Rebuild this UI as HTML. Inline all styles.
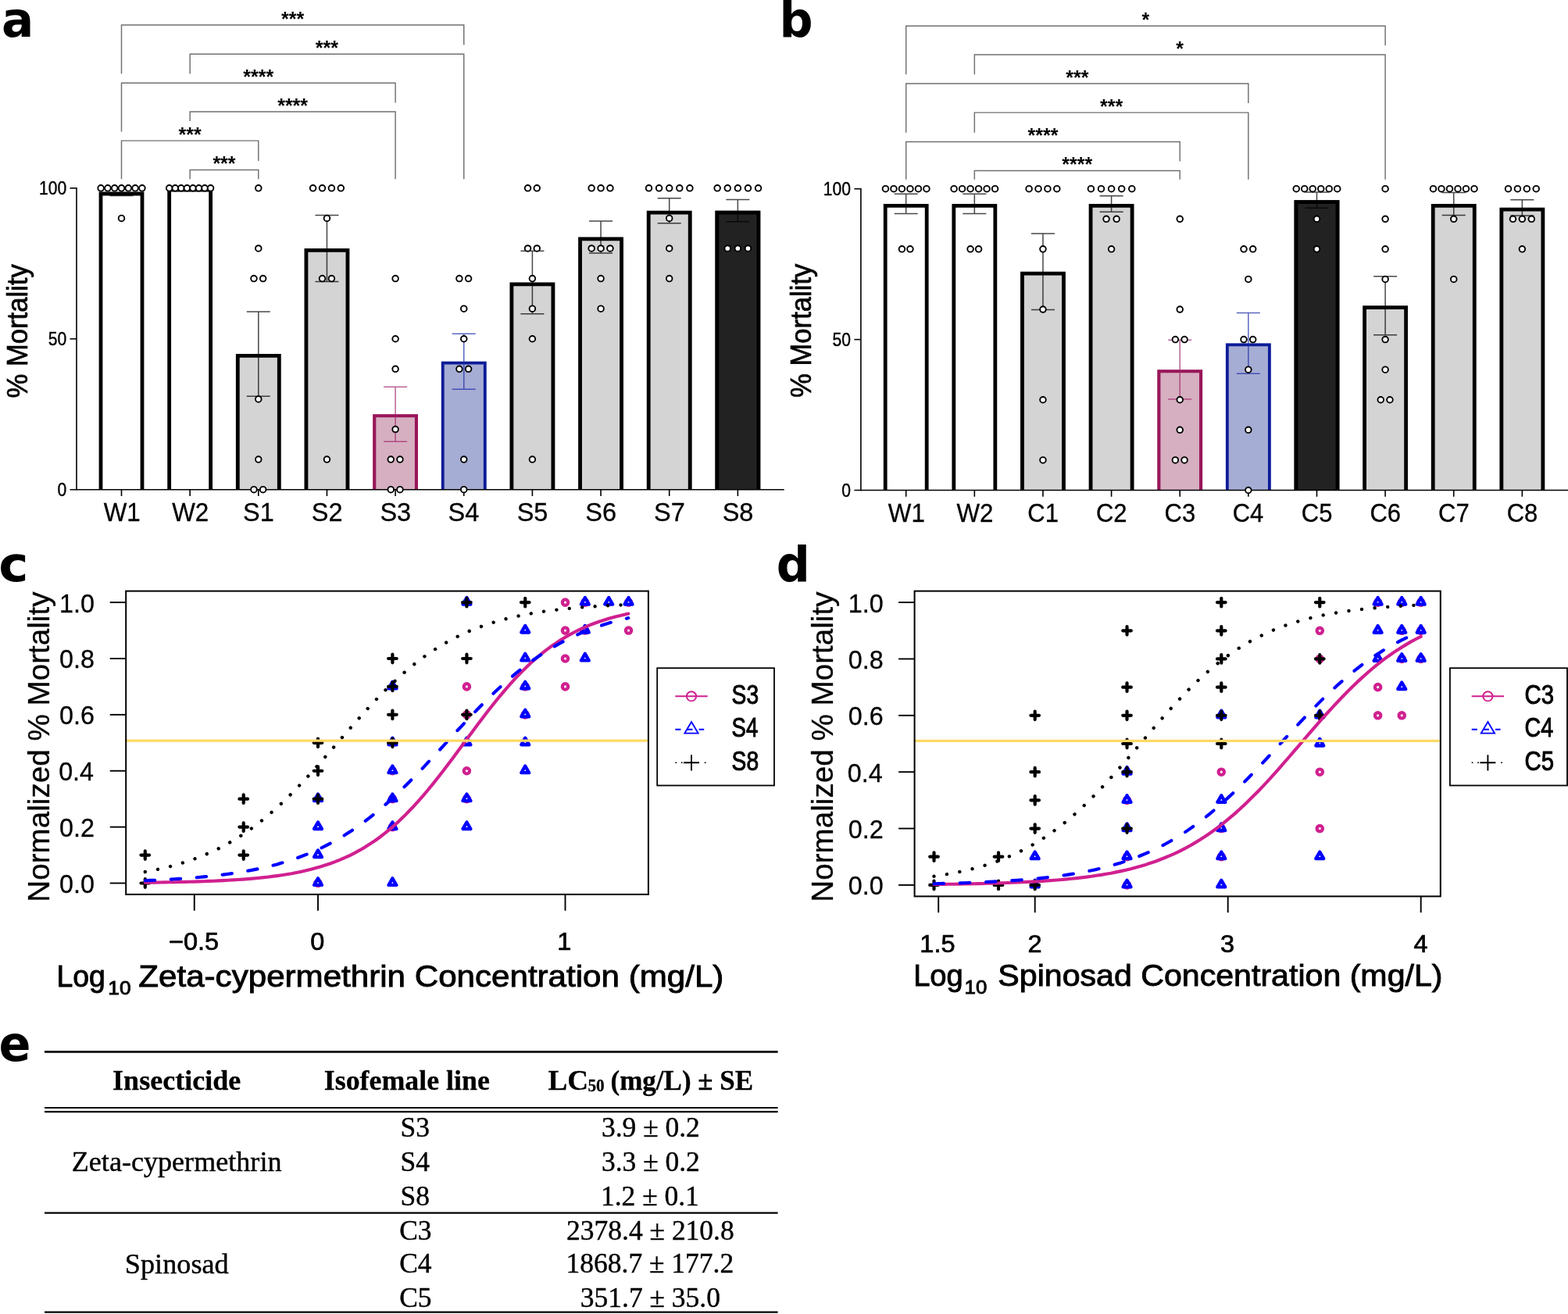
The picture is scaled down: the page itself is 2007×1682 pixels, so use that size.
<!DOCTYPE html>
<html lang="en"><head><meta charset="utf-8"><title>Figure</title>
<style>html,body{margin:0;padding:0;background:#fff;overflow:hidden}svg{display:block}</style></head>
<body>
<svg width="2007" height="1682" viewBox="0 0 2007 1682">
<rect width="2007" height="1682" fill="#fff"/>
<rect x="126.60" y="245.62" width="57.80" height="381.08" fill="#fff"/>
<path d="M129.00 626.70V248.02H182.00V626.70" fill="none" stroke="#000" stroke-width="4.8"/>
<path d="M155.50 240.80V250.45M140.50 240.80h30M140.50 250.45h30" fill="none" stroke="#000" stroke-opacity="0.72" stroke-width="1.5"/>
<rect x="214.25" y="240.80" width="57.80" height="385.90" fill="#fff"/>
<path d="M216.65 626.70V243.20H269.65V626.70" fill="none" stroke="#000" stroke-width="4.8"/>
<rect x="301.90" y="453.05" width="57.80" height="173.65" fill="#d4d4d4"/>
<path d="M304.30 626.70V455.45H357.30V626.70" fill="none" stroke="#000" stroke-width="4.8"/>
<path d="M330.80 398.96V507.13M315.80 398.96h30M315.80 507.13h30" fill="none" stroke="#000" stroke-opacity="0.72" stroke-width="1.5"/>
<rect x="389.55" y="317.98" width="57.80" height="308.72" fill="#d4d4d4"/>
<path d="M391.95 626.70V320.38H444.95V626.70" fill="none" stroke="#000" stroke-width="4.8"/>
<path d="M418.45 275.46V360.50M403.45 275.46h30M403.45 360.50h30" fill="none" stroke="#000" stroke-opacity="0.72" stroke-width="1.5"/>
<rect x="477.20" y="530.23" width="57.80" height="96.48" fill="#d6afc1"/>
<path d="M479.25 626.70V532.27H532.95V626.70" fill="none" stroke="#98165a" stroke-width="4.1"/>
<path d="M506.10 495.25V565.20M491.10 495.25h30M491.10 565.20h30" fill="none" stroke="#a0256a" stroke-opacity="0.72" stroke-width="1.5"/>
<rect x="564.85" y="462.69" width="57.80" height="164.01" fill="#a6add4"/>
<path d="M566.75 626.70V464.59H620.75V626.70" fill="none" stroke="#0c1c98" stroke-width="3.8"/>
<path d="M593.75 427.15V498.23M578.75 427.15h30M578.75 498.23h30" fill="none" stroke="#1c2ca6" stroke-opacity="0.72" stroke-width="1.5"/>
<rect x="652.50" y="361.39" width="57.80" height="265.31" fill="#d4d4d4"/>
<path d="M654.90 626.70V363.79H707.90V626.70" fill="none" stroke="#000" stroke-width="4.8"/>
<path d="M681.40 321.16V401.63M666.40 321.16h30M666.40 401.63h30" fill="none" stroke="#000" stroke-opacity="0.72" stroke-width="1.5"/>
<rect x="740.15" y="303.51" width="57.80" height="323.19" fill="#d4d4d4"/>
<path d="M742.55 626.70V305.91H795.55V626.70" fill="none" stroke="#000" stroke-width="4.8"/>
<path d="M769.05 282.96V324.06M754.05 282.96h30M754.05 324.06h30" fill="none" stroke="#000" stroke-opacity="0.72" stroke-width="1.5"/>
<rect x="827.80" y="269.74" width="57.80" height="356.96" fill="#d4d4d4"/>
<path d="M830.20 626.70V272.14H883.20V626.70" fill="none" stroke="#000" stroke-width="4.8"/>
<path d="M856.70 253.85V285.64M841.70 253.85h30M841.70 285.64h30" fill="none" stroke="#000" stroke-opacity="0.72" stroke-width="1.5"/>
<rect x="915.45" y="269.74" width="57.80" height="356.96" fill="#222"/>
<path d="M917.85 626.70V272.14H970.85V626.70" fill="none" stroke="#000" stroke-width="4.8"/>
<path d="M944.35 255.62V283.86M929.35 255.62h30M929.35 283.86h30" fill="none" stroke="#000" stroke-opacity="0.72" stroke-width="1.5"/>
<line x1="98.00" y1="240.00" x2="98.00" y2="627.50" stroke="#000" stroke-width="1.6"/>
<line x1="89.50" y1="626.70" x2="1003.70" y2="626.70" stroke="#000" stroke-width="1.6"/>
<line x1="89.50" y1="433.75" x2="98.00" y2="433.75" stroke="#000" stroke-width="1.6"/>
<line x1="89.50" y1="240.80" x2="98.00" y2="240.80" stroke="#000" stroke-width="1.6"/>
<text x="73.44" y="634.80" font-family='"Liberation Sans", sans-serif' font-size="23.3" textLength="11.73" lengthAdjust="spacingAndGlyphs" stroke="#000" stroke-width="0.4">0</text>
<text x="61.71" y="441.85" font-family='"Liberation Sans", sans-serif' font-size="23.3" textLength="23.45" lengthAdjust="spacingAndGlyphs" stroke="#000" stroke-width="0.4">50</text>
<text x="49.98" y="248.90" font-family='"Liberation Sans", sans-serif' font-size="23.3" textLength="35.18" lengthAdjust="spacingAndGlyphs" stroke="#000" stroke-width="0.4">100</text>
<line x1="155.50" y1="626.70" x2="155.50" y2="635.00" stroke="#000" stroke-width="1.6"/>
<text x="132.63" y="667.30" font-family='"Liberation Sans", sans-serif' font-size="33" textLength="47.02" lengthAdjust="spacingAndGlyphs" stroke="#000" stroke-width="0.3">W1</text>
<line x1="243.15" y1="626.70" x2="243.15" y2="635.00" stroke="#000" stroke-width="1.6"/>
<text x="220.28" y="667.30" font-family='"Liberation Sans", sans-serif' font-size="33" textLength="47.02" lengthAdjust="spacingAndGlyphs" stroke="#000" stroke-width="0.3">W2</text>
<line x1="330.80" y1="626.70" x2="330.80" y2="635.00" stroke="#000" stroke-width="1.6"/>
<text x="311.09" y="667.30" font-family='"Liberation Sans", sans-serif' font-size="33" textLength="39.76" lengthAdjust="spacingAndGlyphs" stroke="#000" stroke-width="0.3">S1</text>
<line x1="418.45" y1="626.70" x2="418.45" y2="635.00" stroke="#000" stroke-width="1.6"/>
<text x="398.74" y="667.30" font-family='"Liberation Sans", sans-serif' font-size="33" textLength="39.76" lengthAdjust="spacingAndGlyphs" stroke="#000" stroke-width="0.3">S2</text>
<line x1="506.10" y1="626.70" x2="506.10" y2="635.00" stroke="#000" stroke-width="1.6"/>
<text x="486.39" y="667.30" font-family='"Liberation Sans", sans-serif' font-size="33" textLength="39.76" lengthAdjust="spacingAndGlyphs" stroke="#000" stroke-width="0.3">S3</text>
<line x1="593.75" y1="626.70" x2="593.75" y2="635.00" stroke="#000" stroke-width="1.6"/>
<text x="573.55" y="667.30" font-family='"Liberation Sans", sans-serif' font-size="33" textLength="39.76" lengthAdjust="spacingAndGlyphs" stroke="#000" stroke-width="0.3">S4</text>
<line x1="681.40" y1="626.70" x2="681.40" y2="635.00" stroke="#000" stroke-width="1.6"/>
<text x="661.69" y="667.30" font-family='"Liberation Sans", sans-serif' font-size="33" textLength="39.76" lengthAdjust="spacingAndGlyphs" stroke="#000" stroke-width="0.3">S5</text>
<line x1="769.05" y1="626.70" x2="769.05" y2="635.00" stroke="#000" stroke-width="1.6"/>
<text x="749.34" y="667.30" font-family='"Liberation Sans", sans-serif' font-size="33" textLength="39.76" lengthAdjust="spacingAndGlyphs" stroke="#000" stroke-width="0.3">S6</text>
<line x1="856.70" y1="626.70" x2="856.70" y2="635.00" stroke="#000" stroke-width="1.6"/>
<text x="836.99" y="667.30" font-family='"Liberation Sans", sans-serif' font-size="33" textLength="39.76" lengthAdjust="spacingAndGlyphs" stroke="#000" stroke-width="0.3">S7</text>
<line x1="944.35" y1="626.70" x2="944.35" y2="635.00" stroke="#000" stroke-width="1.6"/>
<text x="924.64" y="667.30" font-family='"Liberation Sans", sans-serif' font-size="33" textLength="39.76" lengthAdjust="spacingAndGlyphs" stroke="#000" stroke-width="0.3">S8</text>
<circle cx="155.50" cy="279.39" r="3.8" fill="#fff" stroke="#000" stroke-width="1.9"/>
<circle cx="129.10" cy="240.80" r="3.8" fill="#fff" stroke="#000" stroke-width="1.9"/>
<circle cx="137.90" cy="240.80" r="3.8" fill="#fff" stroke="#000" stroke-width="1.9"/>
<circle cx="146.70" cy="240.80" r="3.8" fill="#fff" stroke="#000" stroke-width="1.9"/>
<circle cx="155.50" cy="240.80" r="3.8" fill="#fff" stroke="#000" stroke-width="1.9"/>
<circle cx="164.30" cy="240.80" r="3.8" fill="#fff" stroke="#000" stroke-width="1.9"/>
<circle cx="173.10" cy="240.80" r="3.8" fill="#fff" stroke="#000" stroke-width="1.9"/>
<circle cx="181.90" cy="240.80" r="3.8" fill="#fff" stroke="#000" stroke-width="1.9"/>
<circle cx="216.72" cy="240.80" r="3.8" fill="#fff" stroke="#000" stroke-width="1.9"/>
<circle cx="224.28" cy="240.80" r="3.8" fill="#fff" stroke="#000" stroke-width="1.9"/>
<circle cx="231.83" cy="240.80" r="3.8" fill="#fff" stroke="#000" stroke-width="1.9"/>
<circle cx="239.38" cy="240.80" r="3.8" fill="#fff" stroke="#000" stroke-width="1.9"/>
<circle cx="246.93" cy="240.80" r="3.8" fill="#fff" stroke="#000" stroke-width="1.9"/>
<circle cx="254.47" cy="240.80" r="3.8" fill="#fff" stroke="#000" stroke-width="1.9"/>
<circle cx="262.02" cy="240.80" r="3.8" fill="#fff" stroke="#000" stroke-width="1.9"/>
<circle cx="269.57" cy="240.80" r="3.8" fill="#fff" stroke="#000" stroke-width="1.9"/>
<circle cx="324.95" cy="626.70" r="3.8" fill="#fff" stroke="#000" stroke-width="1.9"/>
<circle cx="336.65" cy="626.70" r="3.8" fill="#fff" stroke="#000" stroke-width="1.9"/>
<circle cx="330.80" cy="588.11" r="3.8" fill="#fff" stroke="#000" stroke-width="1.9"/>
<circle cx="330.80" cy="510.93" r="3.8" fill="#fff" stroke="#000" stroke-width="1.9"/>
<circle cx="324.95" cy="356.57" r="3.8" fill="#fff" stroke="#000" stroke-width="1.9"/>
<circle cx="336.65" cy="356.57" r="3.8" fill="#fff" stroke="#000" stroke-width="1.9"/>
<circle cx="330.80" cy="317.98" r="3.8" fill="#fff" stroke="#000" stroke-width="1.9"/>
<circle cx="330.80" cy="240.80" r="3.8" fill="#fff" stroke="#000" stroke-width="1.9"/>
<circle cx="418.45" cy="588.11" r="3.8" fill="#fff" stroke="#000" stroke-width="1.9"/>
<circle cx="412.50" cy="356.57" r="3.8" fill="#fff" stroke="#000" stroke-width="1.9"/>
<circle cx="424.40" cy="356.57" r="3.8" fill="#fff" stroke="#000" stroke-width="1.9"/>
<circle cx="418.45" cy="279.39" r="3.8" fill="#fff" stroke="#000" stroke-width="1.9"/>
<circle cx="400.60" cy="240.80" r="3.8" fill="#fff" stroke="#000" stroke-width="1.9"/>
<circle cx="412.50" cy="240.80" r="3.8" fill="#fff" stroke="#000" stroke-width="1.9"/>
<circle cx="424.40" cy="240.80" r="3.8" fill="#fff" stroke="#000" stroke-width="1.9"/>
<circle cx="436.30" cy="240.80" r="3.8" fill="#fff" stroke="#000" stroke-width="1.9"/>
<circle cx="500.25" cy="626.70" r="3.8" fill="#fff" stroke="#000" stroke-width="1.9"/>
<circle cx="511.95" cy="626.70" r="3.8" fill="#fff" stroke="#000" stroke-width="1.9"/>
<circle cx="500.25" cy="588.11" r="3.8" fill="#fff" stroke="#000" stroke-width="1.9"/>
<circle cx="511.95" cy="588.11" r="3.8" fill="#fff" stroke="#000" stroke-width="1.9"/>
<circle cx="506.10" cy="549.52" r="3.8" fill="#fff" stroke="#000" stroke-width="1.9"/>
<circle cx="506.10" cy="472.34" r="3.8" fill="#fff" stroke="#000" stroke-width="1.9"/>
<circle cx="506.10" cy="433.75" r="3.8" fill="#fff" stroke="#000" stroke-width="1.9"/>
<circle cx="506.10" cy="356.57" r="3.8" fill="#fff" stroke="#000" stroke-width="1.9"/>
<circle cx="593.75" cy="626.70" r="3.8" fill="#fff" stroke="#000" stroke-width="1.9"/>
<circle cx="593.75" cy="588.11" r="3.8" fill="#fff" stroke="#000" stroke-width="1.9"/>
<circle cx="587.90" cy="472.34" r="3.8" fill="#fff" stroke="#000" stroke-width="1.9"/>
<circle cx="599.60" cy="472.34" r="3.8" fill="#fff" stroke="#000" stroke-width="1.9"/>
<circle cx="593.75" cy="433.75" r="3.8" fill="#fff" stroke="#000" stroke-width="1.9"/>
<circle cx="593.75" cy="395.16" r="3.8" fill="#fff" stroke="#000" stroke-width="1.9"/>
<circle cx="587.90" cy="356.57" r="3.8" fill="#fff" stroke="#000" stroke-width="1.9"/>
<circle cx="599.60" cy="356.57" r="3.8" fill="#fff" stroke="#000" stroke-width="1.9"/>
<circle cx="681.40" cy="588.11" r="3.8" fill="#fff" stroke="#000" stroke-width="1.9"/>
<circle cx="681.40" cy="433.75" r="3.8" fill="#fff" stroke="#000" stroke-width="1.9"/>
<circle cx="681.40" cy="395.16" r="3.8" fill="#fff" stroke="#000" stroke-width="1.9"/>
<circle cx="681.40" cy="356.57" r="3.8" fill="#fff" stroke="#000" stroke-width="1.9"/>
<circle cx="675.55" cy="317.98" r="3.8" fill="#fff" stroke="#000" stroke-width="1.9"/>
<circle cx="687.25" cy="317.98" r="3.8" fill="#fff" stroke="#000" stroke-width="1.9"/>
<circle cx="675.55" cy="240.80" r="3.8" fill="#fff" stroke="#000" stroke-width="1.9"/>
<circle cx="687.25" cy="240.80" r="3.8" fill="#fff" stroke="#000" stroke-width="1.9"/>
<circle cx="769.05" cy="395.16" r="3.8" fill="#fff" stroke="#000" stroke-width="1.9"/>
<circle cx="769.05" cy="356.57" r="3.8" fill="#fff" stroke="#000" stroke-width="1.9"/>
<circle cx="757.15" cy="317.98" r="3.8" fill="#fff" stroke="#000" stroke-width="1.9"/>
<circle cx="769.05" cy="317.98" r="3.8" fill="#fff" stroke="#000" stroke-width="1.9"/>
<circle cx="780.95" cy="317.98" r="3.8" fill="#fff" stroke="#000" stroke-width="1.9"/>
<circle cx="757.15" cy="240.80" r="3.8" fill="#fff" stroke="#000" stroke-width="1.9"/>
<circle cx="769.05" cy="240.80" r="3.8" fill="#fff" stroke="#000" stroke-width="1.9"/>
<circle cx="780.95" cy="240.80" r="3.8" fill="#fff" stroke="#000" stroke-width="1.9"/>
<circle cx="856.70" cy="356.57" r="3.8" fill="#fff" stroke="#000" stroke-width="1.9"/>
<circle cx="856.70" cy="317.98" r="3.8" fill="#fff" stroke="#000" stroke-width="1.9"/>
<circle cx="856.70" cy="279.39" r="3.8" fill="#fff" stroke="#000" stroke-width="1.9"/>
<circle cx="830.50" cy="240.80" r="3.8" fill="#fff" stroke="#000" stroke-width="1.9"/>
<circle cx="843.60" cy="240.80" r="3.8" fill="#fff" stroke="#000" stroke-width="1.9"/>
<circle cx="856.70" cy="240.80" r="3.8" fill="#fff" stroke="#000" stroke-width="1.9"/>
<circle cx="869.80" cy="240.80" r="3.8" fill="#fff" stroke="#000" stroke-width="1.9"/>
<circle cx="882.90" cy="240.80" r="3.8" fill="#fff" stroke="#000" stroke-width="1.9"/>
<circle cx="931.25" cy="317.98" r="3.8" fill="#fff" stroke="#000" stroke-width="1.9"/>
<circle cx="944.35" cy="317.98" r="3.8" fill="#fff" stroke="#000" stroke-width="1.9"/>
<circle cx="957.45" cy="317.98" r="3.8" fill="#fff" stroke="#000" stroke-width="1.9"/>
<circle cx="918.15" cy="240.80" r="3.8" fill="#fff" stroke="#000" stroke-width="1.9"/>
<circle cx="931.25" cy="240.80" r="3.8" fill="#fff" stroke="#000" stroke-width="1.9"/>
<circle cx="944.35" cy="240.80" r="3.8" fill="#fff" stroke="#000" stroke-width="1.9"/>
<circle cx="957.45" cy="240.80" r="3.8" fill="#fff" stroke="#000" stroke-width="1.9"/>
<circle cx="970.55" cy="240.80" r="3.8" fill="#fff" stroke="#000" stroke-width="1.9"/>
<text transform="translate(34.50,508.60) rotate(-90)" x="-0.94" y="0" font-family='"Liberation Sans", sans-serif' font-size="36.9" textLength="171.32" lengthAdjust="spacingAndGlyphs" stroke="#000" stroke-width="0.7">% Mortality</text>
<path d="M155.50 94.60V32.10H593.75V57.50" fill="none" stroke="#707070" stroke-width="1.45"/>
<text x="374.62" y="32.60" font-family='"Liberation Sans", sans-serif' font-size="25" text-anchor="middle" font-weight="bold">***</text>
<path d="M243.15 94.60V69.20H593.75V229.30" fill="none" stroke="#707070" stroke-width="1.45"/>
<text x="418.45" y="69.70" font-family='"Liberation Sans", sans-serif' font-size="25" text-anchor="middle" font-weight="bold">***</text>
<path d="M155.50 168.40V106.20H506.10V131.60" fill="none" stroke="#707070" stroke-width="1.45"/>
<text x="330.80" y="106.70" font-family='"Liberation Sans", sans-serif' font-size="25" text-anchor="middle" font-weight="bold">****</text>
<path d="M243.15 154.90V143.00H506.10V229.30" fill="none" stroke="#707070" stroke-width="1.45"/>
<text x="374.62" y="143.50" font-family='"Liberation Sans", sans-serif' font-size="25" text-anchor="middle" font-weight="bold">****</text>
<path d="M155.50 229.30V180.10H330.80V206.00" fill="none" stroke="#707070" stroke-width="1.45"/>
<text x="243.15" y="180.60" font-family='"Liberation Sans", sans-serif' font-size="25" text-anchor="middle" font-weight="bold">***</text>
<path d="M243.15 229.30V217.40H330.80V229.30" fill="none" stroke="#707070" stroke-width="1.45"/>
<text x="286.98" y="217.90" font-family='"Liberation Sans", sans-serif' font-size="25" text-anchor="middle" font-weight="bold">***</text>
<rect x="1130.80" y="260.99" width="57.80" height="366.51" fill="#fff"/>
<path d="M1133.20 627.50V263.39H1186.20V627.50" fill="none" stroke="#000" stroke-width="4.8"/>
<path d="M1159.70 248.36V273.62M1144.70 248.36h30M1144.70 273.62h30" fill="none" stroke="#000" stroke-opacity="0.72" stroke-width="1.5"/>
<rect x="1218.43" y="260.99" width="57.80" height="366.51" fill="#fff"/>
<path d="M1220.83 627.50V263.39H1273.83V627.50" fill="none" stroke="#000" stroke-width="4.8"/>
<path d="M1247.33 248.36V273.62M1232.33 248.36h30M1232.33 273.62h30" fill="none" stroke="#000" stroke-opacity="0.72" stroke-width="1.5"/>
<rect x="1306.06" y="347.80" width="57.80" height="279.70" fill="#d4d4d4"/>
<path d="M1308.46 627.50V350.19H1361.46V627.50" fill="none" stroke="#000" stroke-width="4.8"/>
<path d="M1334.96 299.02V396.57M1319.96 299.02h30M1319.96 396.57h30" fill="none" stroke="#000" stroke-opacity="0.72" stroke-width="1.5"/>
<rect x="1393.69" y="260.99" width="57.80" height="366.51" fill="#d4d4d4"/>
<path d="M1396.09 627.50V263.39H1449.09V627.50" fill="none" stroke="#000" stroke-width="4.8"/>
<path d="M1422.59 250.68V271.30M1407.59 250.68h30M1407.59 271.30h30" fill="none" stroke="#000" stroke-opacity="0.72" stroke-width="1.5"/>
<rect x="1481.32" y="473.18" width="57.80" height="154.32" fill="#d6afc1"/>
<path d="M1483.37 627.50V475.23H1537.07V627.50" fill="none" stroke="#98165a" stroke-width="4.1"/>
<path d="M1510.22 435.30V511.06M1495.22 435.30h30M1495.22 511.06h30" fill="none" stroke="#a0256a" stroke-opacity="0.72" stroke-width="1.5"/>
<rect x="1568.95" y="439.42" width="57.80" height="188.08" fill="#a6add4"/>
<path d="M1570.85 627.50V441.32H1624.85V627.50" fill="none" stroke="#0c1c98" stroke-width="3.8"/>
<path d="M1597.85 400.54V478.30M1582.85 400.54h30M1582.85 478.30h30" fill="none" stroke="#1c2ca6" stroke-opacity="0.72" stroke-width="1.5"/>
<rect x="1656.58" y="256.17" width="57.80" height="371.33" fill="#222"/>
<path d="M1658.98 627.50V258.57H1711.98V627.50" fill="none" stroke="#000" stroke-width="4.8"/>
<path d="M1685.48 246.02V266.32M1670.48 246.02h30M1670.48 266.32h30" fill="none" stroke="#000" stroke-opacity="0.72" stroke-width="1.5"/>
<rect x="1744.21" y="391.20" width="57.80" height="236.30" fill="#d4d4d4"/>
<path d="M1746.61 627.50V393.60H1799.61V627.50" fill="none" stroke="#000" stroke-width="4.8"/>
<path d="M1773.11 353.71V428.69M1758.11 353.71h30M1758.11 428.69h30" fill="none" stroke="#000" stroke-opacity="0.72" stroke-width="1.5"/>
<rect x="1831.84" y="260.99" width="57.80" height="366.51" fill="#d4d4d4"/>
<path d="M1834.24 627.50V263.39H1887.24V627.50" fill="none" stroke="#000" stroke-width="4.8"/>
<path d="M1860.74 246.41V275.57M1845.74 246.41h30M1845.74 275.57h30" fill="none" stroke="#000" stroke-opacity="0.72" stroke-width="1.5"/>
<rect x="1919.47" y="265.81" width="57.80" height="361.69" fill="#d4d4d4"/>
<path d="M1921.87 627.50V268.21H1974.87V627.50" fill="none" stroke="#000" stroke-width="4.8"/>
<path d="M1948.37 255.66V275.96M1933.37 255.66h30M1933.37 275.96h30" fill="none" stroke="#000" stroke-opacity="0.72" stroke-width="1.5"/>
<line x1="1101.90" y1="240.90" x2="1101.90" y2="628.30" stroke="#000" stroke-width="1.6"/>
<line x1="1093.40" y1="627.50" x2="2007.00" y2="627.50" stroke="#000" stroke-width="1.6"/>
<line x1="1093.40" y1="434.60" x2="1101.90" y2="434.60" stroke="#000" stroke-width="1.6"/>
<line x1="1093.40" y1="241.70" x2="1101.90" y2="241.70" stroke="#000" stroke-width="1.6"/>
<text x="1077.23" y="635.60" font-family='"Liberation Sans", sans-serif' font-size="23.3" textLength="11.73" lengthAdjust="spacingAndGlyphs" stroke="#000" stroke-width="0.4">0</text>
<text x="1065.51" y="442.70" font-family='"Liberation Sans", sans-serif' font-size="23.3" textLength="23.45" lengthAdjust="spacingAndGlyphs" stroke="#000" stroke-width="0.4">50</text>
<text x="1053.78" y="249.80" font-family='"Liberation Sans", sans-serif' font-size="23.3" textLength="35.18" lengthAdjust="spacingAndGlyphs" stroke="#000" stroke-width="0.4">100</text>
<line x1="1159.70" y1="627.50" x2="1159.70" y2="635.80" stroke="#000" stroke-width="1.6"/>
<text x="1136.83" y="667.90" font-family='"Liberation Sans", sans-serif' font-size="33" textLength="47.02" lengthAdjust="spacingAndGlyphs" stroke="#000" stroke-width="0.3">W1</text>
<line x1="1247.33" y1="627.50" x2="1247.33" y2="635.80" stroke="#000" stroke-width="1.6"/>
<text x="1224.46" y="667.90" font-family='"Liberation Sans", sans-serif' font-size="33" textLength="47.02" lengthAdjust="spacingAndGlyphs" stroke="#000" stroke-width="0.3">W2</text>
<line x1="1334.96" y1="627.50" x2="1334.96" y2="635.80" stroke="#000" stroke-width="1.6"/>
<text x="1315.30" y="667.90" font-family='"Liberation Sans", sans-serif' font-size="33" textLength="39.65" lengthAdjust="spacingAndGlyphs" stroke="#000" stroke-width="0.3">C1</text>
<line x1="1422.59" y1="627.50" x2="1422.59" y2="635.80" stroke="#000" stroke-width="1.6"/>
<text x="1402.93" y="667.90" font-family='"Liberation Sans", sans-serif' font-size="33" textLength="39.65" lengthAdjust="spacingAndGlyphs" stroke="#000" stroke-width="0.3">C2</text>
<line x1="1510.22" y1="627.50" x2="1510.22" y2="635.80" stroke="#000" stroke-width="1.6"/>
<text x="1490.56" y="667.90" font-family='"Liberation Sans", sans-serif' font-size="33" textLength="39.65" lengthAdjust="spacingAndGlyphs" stroke="#000" stroke-width="0.3">C3</text>
<line x1="1597.85" y1="627.50" x2="1597.85" y2="635.80" stroke="#000" stroke-width="1.6"/>
<text x="1577.72" y="667.90" font-family='"Liberation Sans", sans-serif' font-size="33" textLength="39.65" lengthAdjust="spacingAndGlyphs" stroke="#000" stroke-width="0.3">C4</text>
<line x1="1685.48" y1="627.50" x2="1685.48" y2="635.80" stroke="#000" stroke-width="1.6"/>
<text x="1665.82" y="667.90" font-family='"Liberation Sans", sans-serif' font-size="33" textLength="39.65" lengthAdjust="spacingAndGlyphs" stroke="#000" stroke-width="0.3">C5</text>
<line x1="1773.11" y1="627.50" x2="1773.11" y2="635.80" stroke="#000" stroke-width="1.6"/>
<text x="1753.45" y="667.90" font-family='"Liberation Sans", sans-serif' font-size="33" textLength="39.65" lengthAdjust="spacingAndGlyphs" stroke="#000" stroke-width="0.3">C6</text>
<line x1="1860.74" y1="627.50" x2="1860.74" y2="635.80" stroke="#000" stroke-width="1.6"/>
<text x="1841.08" y="667.90" font-family='"Liberation Sans", sans-serif' font-size="33" textLength="39.65" lengthAdjust="spacingAndGlyphs" stroke="#000" stroke-width="0.3">C7</text>
<line x1="1948.37" y1="627.50" x2="1948.37" y2="635.80" stroke="#000" stroke-width="1.6"/>
<text x="1928.71" y="667.90" font-family='"Liberation Sans", sans-serif' font-size="33" textLength="39.65" lengthAdjust="spacingAndGlyphs" stroke="#000" stroke-width="0.3">C8</text>
<circle cx="1154.45" cy="318.86" r="3.8" fill="#fff" stroke="#000" stroke-width="1.9"/>
<circle cx="1164.95" cy="318.86" r="3.8" fill="#fff" stroke="#000" stroke-width="1.9"/>
<circle cx="1133.45" cy="241.70" r="3.8" fill="#fff" stroke="#000" stroke-width="1.9"/>
<circle cx="1143.95" cy="241.70" r="3.8" fill="#fff" stroke="#000" stroke-width="1.9"/>
<circle cx="1154.45" cy="241.70" r="3.8" fill="#fff" stroke="#000" stroke-width="1.9"/>
<circle cx="1164.95" cy="241.70" r="3.8" fill="#fff" stroke="#000" stroke-width="1.9"/>
<circle cx="1175.45" cy="241.70" r="3.8" fill="#fff" stroke="#000" stroke-width="1.9"/>
<circle cx="1185.95" cy="241.70" r="3.8" fill="#fff" stroke="#000" stroke-width="1.9"/>
<circle cx="1242.08" cy="318.86" r="3.8" fill="#fff" stroke="#000" stroke-width="1.9"/>
<circle cx="1252.58" cy="318.86" r="3.8" fill="#fff" stroke="#000" stroke-width="1.9"/>
<circle cx="1221.08" cy="241.70" r="3.8" fill="#fff" stroke="#000" stroke-width="1.9"/>
<circle cx="1231.58" cy="241.70" r="3.8" fill="#fff" stroke="#000" stroke-width="1.9"/>
<circle cx="1242.08" cy="241.70" r="3.8" fill="#fff" stroke="#000" stroke-width="1.9"/>
<circle cx="1252.58" cy="241.70" r="3.8" fill="#fff" stroke="#000" stroke-width="1.9"/>
<circle cx="1263.08" cy="241.70" r="3.8" fill="#fff" stroke="#000" stroke-width="1.9"/>
<circle cx="1273.58" cy="241.70" r="3.8" fill="#fff" stroke="#000" stroke-width="1.9"/>
<circle cx="1334.96" cy="588.92" r="3.8" fill="#fff" stroke="#000" stroke-width="1.9"/>
<circle cx="1334.96" cy="511.76" r="3.8" fill="#fff" stroke="#000" stroke-width="1.9"/>
<circle cx="1334.96" cy="396.02" r="3.8" fill="#fff" stroke="#000" stroke-width="1.9"/>
<circle cx="1334.96" cy="318.86" r="3.8" fill="#fff" stroke="#000" stroke-width="1.9"/>
<circle cx="1317.11" cy="241.70" r="3.8" fill="#fff" stroke="#000" stroke-width="1.9"/>
<circle cx="1329.01" cy="241.70" r="3.8" fill="#fff" stroke="#000" stroke-width="1.9"/>
<circle cx="1340.91" cy="241.70" r="3.8" fill="#fff" stroke="#000" stroke-width="1.9"/>
<circle cx="1352.81" cy="241.70" r="3.8" fill="#fff" stroke="#000" stroke-width="1.9"/>
<circle cx="1422.59" cy="318.86" r="3.8" fill="#fff" stroke="#000" stroke-width="1.9"/>
<circle cx="1416.04" cy="280.28" r="3.8" fill="#fff" stroke="#000" stroke-width="1.9"/>
<circle cx="1429.14" cy="280.28" r="3.8" fill="#fff" stroke="#000" stroke-width="1.9"/>
<circle cx="1396.39" cy="241.70" r="3.8" fill="#fff" stroke="#000" stroke-width="1.9"/>
<circle cx="1409.49" cy="241.70" r="3.8" fill="#fff" stroke="#000" stroke-width="1.9"/>
<circle cx="1422.59" cy="241.70" r="3.8" fill="#fff" stroke="#000" stroke-width="1.9"/>
<circle cx="1435.69" cy="241.70" r="3.8" fill="#fff" stroke="#000" stroke-width="1.9"/>
<circle cx="1448.79" cy="241.70" r="3.8" fill="#fff" stroke="#000" stroke-width="1.9"/>
<circle cx="1504.37" cy="588.92" r="3.8" fill="#fff" stroke="#000" stroke-width="1.9"/>
<circle cx="1516.07" cy="588.92" r="3.8" fill="#fff" stroke="#000" stroke-width="1.9"/>
<circle cx="1510.22" cy="550.34" r="3.8" fill="#fff" stroke="#000" stroke-width="1.9"/>
<circle cx="1510.22" cy="511.76" r="3.8" fill="#fff" stroke="#000" stroke-width="1.9"/>
<circle cx="1504.37" cy="434.60" r="3.8" fill="#fff" stroke="#000" stroke-width="1.9"/>
<circle cx="1516.07" cy="434.60" r="3.8" fill="#fff" stroke="#000" stroke-width="1.9"/>
<circle cx="1510.22" cy="396.02" r="3.8" fill="#fff" stroke="#000" stroke-width="1.9"/>
<circle cx="1510.22" cy="280.28" r="3.8" fill="#fff" stroke="#000" stroke-width="1.9"/>
<circle cx="1597.85" cy="627.50" r="3.8" fill="#fff" stroke="#000" stroke-width="1.9"/>
<circle cx="1597.85" cy="550.34" r="3.8" fill="#fff" stroke="#000" stroke-width="1.9"/>
<circle cx="1597.85" cy="473.18" r="3.8" fill="#fff" stroke="#000" stroke-width="1.9"/>
<circle cx="1592.00" cy="434.60" r="3.8" fill="#fff" stroke="#000" stroke-width="1.9"/>
<circle cx="1603.70" cy="434.60" r="3.8" fill="#fff" stroke="#000" stroke-width="1.9"/>
<circle cx="1597.85" cy="357.44" r="3.8" fill="#fff" stroke="#000" stroke-width="1.9"/>
<circle cx="1592.00" cy="318.86" r="3.8" fill="#fff" stroke="#000" stroke-width="1.9"/>
<circle cx="1603.70" cy="318.86" r="3.8" fill="#fff" stroke="#000" stroke-width="1.9"/>
<circle cx="1685.48" cy="318.86" r="3.8" fill="#fff" stroke="#000" stroke-width="1.9"/>
<circle cx="1685.48" cy="280.28" r="3.8" fill="#fff" stroke="#000" stroke-width="1.9"/>
<circle cx="1659.23" cy="241.70" r="3.8" fill="#fff" stroke="#000" stroke-width="1.9"/>
<circle cx="1669.73" cy="241.70" r="3.8" fill="#fff" stroke="#000" stroke-width="1.9"/>
<circle cx="1680.23" cy="241.70" r="3.8" fill="#fff" stroke="#000" stroke-width="1.9"/>
<circle cx="1690.73" cy="241.70" r="3.8" fill="#fff" stroke="#000" stroke-width="1.9"/>
<circle cx="1701.23" cy="241.70" r="3.8" fill="#fff" stroke="#000" stroke-width="1.9"/>
<circle cx="1711.73" cy="241.70" r="3.8" fill="#fff" stroke="#000" stroke-width="1.9"/>
<circle cx="1767.26" cy="511.76" r="3.8" fill="#fff" stroke="#000" stroke-width="1.9"/>
<circle cx="1778.96" cy="511.76" r="3.8" fill="#fff" stroke="#000" stroke-width="1.9"/>
<circle cx="1773.11" cy="473.18" r="3.8" fill="#fff" stroke="#000" stroke-width="1.9"/>
<circle cx="1773.11" cy="434.60" r="3.8" fill="#fff" stroke="#000" stroke-width="1.9"/>
<circle cx="1773.11" cy="357.44" r="3.8" fill="#fff" stroke="#000" stroke-width="1.9"/>
<circle cx="1773.11" cy="318.86" r="3.8" fill="#fff" stroke="#000" stroke-width="1.9"/>
<circle cx="1773.11" cy="280.28" r="3.8" fill="#fff" stroke="#000" stroke-width="1.9"/>
<circle cx="1773.11" cy="241.70" r="3.8" fill="#fff" stroke="#000" stroke-width="1.9"/>
<circle cx="1860.74" cy="357.44" r="3.8" fill="#fff" stroke="#000" stroke-width="1.9"/>
<circle cx="1860.74" cy="280.28" r="3.8" fill="#fff" stroke="#000" stroke-width="1.9"/>
<circle cx="1834.49" cy="241.70" r="3.8" fill="#fff" stroke="#000" stroke-width="1.9"/>
<circle cx="1844.99" cy="241.70" r="3.8" fill="#fff" stroke="#000" stroke-width="1.9"/>
<circle cx="1855.49" cy="241.70" r="3.8" fill="#fff" stroke="#000" stroke-width="1.9"/>
<circle cx="1865.99" cy="241.70" r="3.8" fill="#fff" stroke="#000" stroke-width="1.9"/>
<circle cx="1876.49" cy="241.70" r="3.8" fill="#fff" stroke="#000" stroke-width="1.9"/>
<circle cx="1886.99" cy="241.70" r="3.8" fill="#fff" stroke="#000" stroke-width="1.9"/>
<circle cx="1948.37" cy="318.86" r="3.8" fill="#fff" stroke="#000" stroke-width="1.9"/>
<circle cx="1936.47" cy="280.28" r="3.8" fill="#fff" stroke="#000" stroke-width="1.9"/>
<circle cx="1948.37" cy="280.28" r="3.8" fill="#fff" stroke="#000" stroke-width="1.9"/>
<circle cx="1960.27" cy="280.28" r="3.8" fill="#fff" stroke="#000" stroke-width="1.9"/>
<circle cx="1930.52" cy="241.70" r="3.8" fill="#fff" stroke="#000" stroke-width="1.9"/>
<circle cx="1942.42" cy="241.70" r="3.8" fill="#fff" stroke="#000" stroke-width="1.9"/>
<circle cx="1954.32" cy="241.70" r="3.8" fill="#fff" stroke="#000" stroke-width="1.9"/>
<circle cx="1966.22" cy="241.70" r="3.8" fill="#fff" stroke="#000" stroke-width="1.9"/>
<text transform="translate(1038.30,508.00) rotate(-90)" x="-0.94" y="0" font-family='"Liberation Sans", sans-serif' font-size="36.9" textLength="171.32" lengthAdjust="spacingAndGlyphs" stroke="#000" stroke-width="0.7">% Mortality</text>
<path d="M1159.70 95.30V33.20H1773.11V58.30" fill="none" stroke="#707070" stroke-width="1.45"/>
<text x="1466.41" y="33.70" font-family='"Liberation Sans", sans-serif' font-size="25" text-anchor="middle" font-weight="bold">*</text>
<path d="M1247.33 95.30V70.00H1773.11V229.80" fill="none" stroke="#707070" stroke-width="1.45"/>
<text x="1510.22" y="70.50" font-family='"Liberation Sans", sans-serif' font-size="25" text-anchor="middle" font-weight="bold">*</text>
<path d="M1159.70 169.70V107.00H1597.85V132.10" fill="none" stroke="#707070" stroke-width="1.45"/>
<text x="1378.78" y="107.50" font-family='"Liberation Sans", sans-serif' font-size="25" text-anchor="middle" font-weight="bold">***</text>
<path d="M1247.33 169.70V144.10H1597.85V229.80" fill="none" stroke="#707070" stroke-width="1.45"/>
<text x="1422.59" y="144.60" font-family='"Liberation Sans", sans-serif' font-size="25" text-anchor="middle" font-weight="bold">***</text>
<path d="M1159.70 229.80V181.40H1510.22V206.50" fill="none" stroke="#707070" stroke-width="1.45"/>
<text x="1334.96" y="181.90" font-family='"Liberation Sans", sans-serif' font-size="25" text-anchor="middle" font-weight="bold">****</text>
<path d="M1247.33 229.80V218.40H1510.22V229.80" fill="none" stroke="#707070" stroke-width="1.45"/>
<text x="1378.78" y="218.90" font-family='"Liberation Sans", sans-serif' font-size="25" text-anchor="middle" font-weight="bold">****</text>
<circle cx="407.00" cy="1130.50" r="3.7" stroke="#d02090" stroke-width="4.2" fill="none"/>
<circle cx="502.39" cy="986.74" r="3.7" stroke="#d02090" stroke-width="4.2" fill="none"/>
<circle cx="502.39" cy="1022.68" r="3.7" stroke="#d02090" stroke-width="4.2" fill="none"/>
<circle cx="502.39" cy="1058.62" r="3.7" stroke="#d02090" stroke-width="4.2" fill="none"/>
<circle cx="597.41" cy="878.92" r="3.7" stroke="#d02090" stroke-width="4.2" fill="none"/>
<circle cx="597.41" cy="914.86" r="3.7" stroke="#d02090" stroke-width="4.2" fill="none"/>
<circle cx="597.41" cy="986.74" r="3.7" stroke="#d02090" stroke-width="4.2" fill="none"/>
<circle cx="597.41" cy="1022.68" r="3.7" stroke="#d02090" stroke-width="4.2" fill="none"/>
<circle cx="672.23" cy="878.92" r="3.7" stroke="#d02090" stroke-width="4.2" fill="none"/>
<circle cx="672.23" cy="914.86" r="3.7" stroke="#d02090" stroke-width="4.2" fill="none"/>
<circle cx="723.50" cy="771.10" r="3.7" stroke="#d02090" stroke-width="4.2" fill="none"/>
<circle cx="723.50" cy="807.04" r="3.7" stroke="#d02090" stroke-width="4.2" fill="none"/>
<circle cx="723.50" cy="842.98" r="3.7" stroke="#d02090" stroke-width="4.2" fill="none"/>
<circle cx="723.50" cy="878.92" r="3.7" stroke="#d02090" stroke-width="4.2" fill="none"/>
<circle cx="748.82" cy="771.10" r="3.7" stroke="#d02090" stroke-width="4.2" fill="none"/>
<circle cx="748.82" cy="807.04" r="3.7" stroke="#d02090" stroke-width="4.2" fill="none"/>
<circle cx="804.52" cy="771.10" r="3.7" stroke="#d02090" stroke-width="4.2" fill="none"/>
<circle cx="804.52" cy="807.04" r="3.7" stroke="#d02090" stroke-width="4.2" fill="none"/>
<path d="M407.00 1016.53L411.98 1025.16L402.02 1025.16Z" stroke="#0000ff" stroke-width="4.3" stroke-linejoin="round" fill="none"/>
<path d="M407.00 1052.47L411.98 1061.09L402.02 1061.09Z" stroke="#0000ff" stroke-width="4.3" stroke-linejoin="round" fill="none"/>
<path d="M407.00 1088.41L411.98 1097.03L402.02 1097.03Z" stroke="#0000ff" stroke-width="4.3" stroke-linejoin="round" fill="none"/>
<path d="M407.00 1124.35L411.98 1132.97L402.02 1132.97Z" stroke="#0000ff" stroke-width="4.3" stroke-linejoin="round" fill="none"/>
<path d="M502.39 872.77L507.37 881.40L497.41 881.40Z" stroke="#0000ff" stroke-width="4.3" stroke-linejoin="round" fill="none"/>
<path d="M502.39 944.65L507.37 953.27L497.41 953.27Z" stroke="#0000ff" stroke-width="4.3" stroke-linejoin="round" fill="none"/>
<path d="M502.39 980.59L507.37 989.22L497.41 989.22Z" stroke="#0000ff" stroke-width="4.3" stroke-linejoin="round" fill="none"/>
<path d="M502.39 1016.53L507.37 1025.16L497.41 1025.16Z" stroke="#0000ff" stroke-width="4.3" stroke-linejoin="round" fill="none"/>
<path d="M502.39 1052.47L507.37 1061.09L497.41 1061.09Z" stroke="#0000ff" stroke-width="4.3" stroke-linejoin="round" fill="none"/>
<path d="M502.39 1124.35L507.37 1132.97L497.41 1132.97Z" stroke="#0000ff" stroke-width="4.3" stroke-linejoin="round" fill="none"/>
<path d="M597.41 764.95L602.39 773.58L592.43 773.58Z" stroke="#0000ff" stroke-width="4.3" stroke-linejoin="round" fill="none"/>
<path d="M597.41 944.65L602.39 953.27L592.43 953.27Z" stroke="#0000ff" stroke-width="4.3" stroke-linejoin="round" fill="none"/>
<path d="M597.41 1016.53L602.39 1025.16L592.43 1025.16Z" stroke="#0000ff" stroke-width="4.3" stroke-linejoin="round" fill="none"/>
<path d="M597.41 1052.47L602.39 1061.09L592.43 1061.09Z" stroke="#0000ff" stroke-width="4.3" stroke-linejoin="round" fill="none"/>
<path d="M672.23 800.89L677.21 809.51L667.25 809.51Z" stroke="#0000ff" stroke-width="4.3" stroke-linejoin="round" fill="none"/>
<path d="M672.23 836.83L677.21 845.46L667.25 845.46Z" stroke="#0000ff" stroke-width="4.3" stroke-linejoin="round" fill="none"/>
<path d="M672.23 872.77L677.21 881.40L667.25 881.40Z" stroke="#0000ff" stroke-width="4.3" stroke-linejoin="round" fill="none"/>
<path d="M672.23 908.71L677.21 917.34L667.25 917.34Z" stroke="#0000ff" stroke-width="4.3" stroke-linejoin="round" fill="none"/>
<path d="M672.23 944.65L677.21 953.27L667.25 953.27Z" stroke="#0000ff" stroke-width="4.3" stroke-linejoin="round" fill="none"/>
<path d="M672.23 980.59L677.21 989.22L667.25 989.22Z" stroke="#0000ff" stroke-width="4.3" stroke-linejoin="round" fill="none"/>
<path d="M748.82 764.95L753.80 773.58L743.84 773.58Z" stroke="#0000ff" stroke-width="4.3" stroke-linejoin="round" fill="none"/>
<path d="M748.82 800.89L753.80 809.51L743.84 809.51Z" stroke="#0000ff" stroke-width="4.3" stroke-linejoin="round" fill="none"/>
<path d="M748.82 836.83L753.80 845.46L743.84 845.46Z" stroke="#0000ff" stroke-width="4.3" stroke-linejoin="round" fill="none"/>
<path d="M779.20 764.95L784.18 773.58L774.22 773.58Z" stroke="#0000ff" stroke-width="4.3" stroke-linejoin="round" fill="none"/>
<path d="M804.52 764.95L809.50 773.58L799.54 773.58Z" stroke="#0000ff" stroke-width="4.3" stroke-linejoin="round" fill="none"/>
<path d="M180.47 1094.56h10.6M185.77 1089.26v10.6" stroke="#000" stroke-width="4.2" stroke-linecap="round" fill="none"/>
<path d="M180.47 1130.50h10.6M185.77 1125.20v10.6" stroke="#000" stroke-width="4.2" stroke-linecap="round" fill="none"/>
<path d="M306.43 1022.68h10.6M311.73 1017.38v10.6" stroke="#000" stroke-width="4.2" stroke-linecap="round" fill="none"/>
<path d="M306.43 1058.62h10.6M311.73 1053.32v10.6" stroke="#000" stroke-width="4.2" stroke-linecap="round" fill="none"/>
<path d="M306.43 1094.56h10.6M311.73 1089.26v10.6" stroke="#000" stroke-width="4.2" stroke-linecap="round" fill="none"/>
<path d="M401.70 950.80h10.6M407.00 945.50v10.6" stroke="#000" stroke-width="4.2" stroke-linecap="round" fill="none"/>
<path d="M401.70 986.74h10.6M407.00 981.44v10.6" stroke="#000" stroke-width="4.2" stroke-linecap="round" fill="none"/>
<path d="M401.70 1022.68h10.6M407.00 1017.38v10.6" stroke="#000" stroke-width="4.2" stroke-linecap="round" fill="none"/>
<path d="M497.09 842.98h10.6M502.39 837.68v10.6" stroke="#000" stroke-width="4.2" stroke-linecap="round" fill="none"/>
<path d="M497.09 878.92h10.6M502.39 873.62v10.6" stroke="#000" stroke-width="4.2" stroke-linecap="round" fill="none"/>
<path d="M497.09 914.86h10.6M502.39 909.56v10.6" stroke="#000" stroke-width="4.2" stroke-linecap="round" fill="none"/>
<path d="M497.09 950.80h10.6M502.39 945.50v10.6" stroke="#000" stroke-width="4.2" stroke-linecap="round" fill="none"/>
<path d="M592.11 771.10h10.6M597.41 765.80v10.6" stroke="#000" stroke-width="4.2" stroke-linecap="round" fill="none"/>
<path d="M592.11 842.98h10.6M597.41 837.68v10.6" stroke="#000" stroke-width="4.2" stroke-linecap="round" fill="none"/>
<path d="M592.11 914.86h10.6M597.41 909.56v10.6" stroke="#000" stroke-width="4.2" stroke-linecap="round" fill="none"/>
<path d="M666.93 771.10h10.6M672.23 765.80v10.6" stroke="#000" stroke-width="4.2" stroke-linecap="round" fill="none"/>
<path d="M185.8 1129.7L192.0 1129.7L198.3 1129.6L204.5 1129.5L210.8 1129.4L217.0 1129.3L223.3 1129.2L229.5 1129.0L235.7 1128.9L242.0 1128.7L248.2 1128.6L254.5 1128.4L260.7 1128.2L267.0 1127.9L273.2 1127.7L279.5 1127.4L285.7 1127.1L292.0 1126.8L298.2 1126.4L304.5 1126.0L310.7 1125.6L317.0 1125.1L323.2 1124.6L329.5 1124.0L335.7 1123.4L342.0 1122.7L348.2 1121.9L354.5 1121.1L360.7 1120.2L367.0 1119.2L373.2 1118.2L379.4 1117.0L385.7 1115.7L391.9 1114.3L398.2 1112.8L404.4 1111.1L410.7 1109.3L416.9 1107.3L423.2 1105.2L429.4 1102.9L435.7 1100.4L441.9 1097.7L448.2 1094.8L454.4 1091.6L460.7 1088.2L466.9 1084.6L473.2 1080.6L479.4 1076.5L485.7 1072.0L491.9 1067.2L498.2 1062.1L504.4 1056.8L510.7 1051.1L516.9 1045.1L523.1 1038.8L529.4 1032.2L535.6 1025.3L541.9 1018.2L548.1 1010.7L554.4 1003.1L560.6 995.2L566.9 987.2L573.1 979.0L579.4 970.7L585.6 962.2L591.9 953.8L598.1 945.3L604.4 936.9L610.6 928.5L616.9 920.2L623.1 912.0L629.4 904.0L635.6 896.2L641.9 888.6L648.1 881.3L654.4 874.2L660.6 867.4L666.9 860.9L673.1 854.7L679.3 848.8L685.6 843.2L691.8 837.9L698.1 832.9L704.3 828.3L710.6 823.9L716.8 819.8L723.1 815.9L729.3 812.4L735.6 809.0L741.8 805.9L748.1 803.1L754.3 800.4L760.6 798.0L766.8 795.7L773.1 793.7L779.3 791.7L785.6 790.0L791.8 788.4L798.1 786.9L804.3 785.5" fill="none" stroke="#d02090" stroke-width="4.15" stroke-linecap="round" stroke-linejoin="round"/>
<path d="M185.8 1127.2L192.0 1126.9L198.3 1126.7L204.5 1126.4L210.8 1126.0L217.0 1125.7L223.3 1125.3L229.5 1124.9L235.7 1124.5L242.0 1124.0L248.2 1123.5L254.5 1123.0L260.7 1122.4L267.0 1121.8L273.2 1121.1L279.5 1120.4L285.7 1119.6L292.0 1118.8L298.2 1117.9L304.5 1116.9L310.7 1115.9L317.0 1114.8L323.2 1113.6L329.5 1112.4L335.7 1111.0L342.0 1109.6L348.2 1108.0L354.5 1106.4L360.7 1104.6L367.0 1102.7L373.2 1100.7L379.4 1098.6L385.7 1096.3L391.9 1093.9L398.2 1091.3L404.4 1088.6L410.7 1085.7L416.9 1082.6L423.2 1079.4L429.4 1076.0L435.7 1072.4L441.9 1068.6L448.2 1064.6L454.4 1060.4L460.7 1056.0L466.9 1051.4L473.2 1046.7L479.4 1041.7L485.7 1036.5L491.9 1031.2L498.2 1025.6L504.4 1019.9L510.7 1014.0L516.9 1007.9L523.1 1001.7L529.4 995.4L535.6 988.9L541.9 982.4L548.1 975.7L554.4 969.0L560.6 962.2L566.9 955.4L573.1 948.6L579.4 941.8L585.6 935.0L591.9 928.3L598.1 921.6L604.4 915.0L610.6 908.5L616.9 902.1L623.1 895.8L629.4 889.7L635.6 883.8L641.9 878.0L648.1 872.4L654.4 867.0L660.6 861.7L666.9 856.7L673.1 851.8L679.3 847.2L685.6 842.7L691.8 838.5L698.1 834.4L704.3 830.5L710.6 826.9L716.8 823.4L723.1 820.1L729.3 817.0L735.6 814.0L741.8 811.2L748.1 808.6L754.3 806.1L760.6 803.8L766.8 801.6L773.1 799.6L779.3 797.6L785.6 795.8L791.8 794.1L798.1 792.5L804.3 791.1" fill="none" stroke="#0000ff" stroke-width="4.15" stroke-linecap="round" stroke-linejoin="round" stroke-dasharray="12.4 20.64"/>
<path d="M185.8 1116.0L192.0 1114.9L198.3 1113.6L204.5 1112.3L210.8 1110.8L217.0 1109.3L223.3 1107.6L229.5 1105.8L235.7 1103.9L242.0 1101.9L248.2 1099.7L254.5 1097.3L260.7 1094.8L267.0 1092.2L273.2 1089.3L279.5 1086.3L285.7 1083.1L292.0 1079.7L298.2 1076.1L304.5 1072.3L310.7 1068.2L317.0 1064.0L323.2 1059.5L329.5 1054.8L335.7 1049.9L342.0 1044.7L348.2 1039.4L354.5 1033.8L360.7 1028.0L367.0 1022.0L373.2 1015.8L379.4 1009.4L385.7 1002.9L391.9 996.2L398.2 989.4L404.4 982.4L410.7 975.4L416.9 968.2L423.2 961.1L429.4 953.8L435.7 946.6L441.9 939.4L448.2 932.2L454.4 925.1L460.7 918.1L466.9 911.1L473.2 904.3L479.4 897.6L485.7 891.1L491.9 884.8L498.2 878.6L504.4 872.7L510.7 866.9L516.9 861.4L523.1 856.0L529.4 850.9L535.6 846.0L541.9 841.4L548.1 836.9L554.4 832.7L560.6 828.7L566.9 824.9L573.1 821.4L579.4 818.0L585.6 814.8L591.9 811.8L598.1 809.0L604.4 806.3L610.6 803.9L616.9 801.6L623.1 799.4L629.4 797.4L635.6 795.5L641.9 793.7L648.1 792.1L654.4 790.5L660.6 789.1L666.9 787.8L673.1 786.5L679.3 785.4L685.6 784.3L691.8 783.3L698.1 782.4L704.3 781.6L710.6 780.8L716.8 780.1L723.1 779.4L729.3 778.8L735.6 778.2L741.8 777.6L748.1 777.1L754.3 776.7L760.6 776.3L766.8 775.9L773.1 775.5L779.3 775.2L785.6 774.9L791.8 774.6L798.1 774.3L804.3 774.1" fill="none" stroke="#000" stroke-width="4.4" stroke-linecap="round" stroke-linejoin="round" stroke-dasharray="0.01 16.47"/>
<line x1="160.20" y1="948.10" x2="828.70" y2="948.10" stroke="#ffd966" stroke-width="3.3"/>
<rect x="161.20" y="756.60" width="668.70" height="388.30" fill="none" stroke="#000" stroke-width="2"/>
<line x1="140.70" y1="1130.50" x2="161.20" y2="1130.50" stroke="#000" stroke-width="1.9"/>
<text x="76.11" y="1142.90" font-family='"Liberation Sans", sans-serif' font-size="32.8" textLength="44.91" lengthAdjust="spacingAndGlyphs" stroke="#000" stroke-width="0.3">0.0</text>
<line x1="140.70" y1="1058.62" x2="161.20" y2="1058.62" stroke="#000" stroke-width="1.9"/>
<text x="76.11" y="1071.02" font-family='"Liberation Sans", sans-serif' font-size="32.8" textLength="44.91" lengthAdjust="spacingAndGlyphs" stroke="#000" stroke-width="0.3">0.2</text>
<line x1="140.70" y1="986.74" x2="161.20" y2="986.74" stroke="#000" stroke-width="1.9"/>
<text x="75.13" y="999.14" font-family='"Liberation Sans", sans-serif' font-size="32.8" textLength="44.91" lengthAdjust="spacingAndGlyphs" stroke="#000" stroke-width="0.3">0.4</text>
<line x1="140.70" y1="914.86" x2="161.20" y2="914.86" stroke="#000" stroke-width="1.9"/>
<text x="76.11" y="927.26" font-family='"Liberation Sans", sans-serif' font-size="32.8" textLength="44.91" lengthAdjust="spacingAndGlyphs" stroke="#000" stroke-width="0.3">0.6</text>
<line x1="140.70" y1="842.98" x2="161.20" y2="842.98" stroke="#000" stroke-width="1.9"/>
<text x="76.11" y="855.38" font-family='"Liberation Sans", sans-serif' font-size="32.8" textLength="44.91" lengthAdjust="spacingAndGlyphs" stroke="#000" stroke-width="0.3">0.8</text>
<line x1="140.70" y1="771.10" x2="161.20" y2="771.10" stroke="#000" stroke-width="1.9"/>
<text x="76.11" y="783.50" font-family='"Liberation Sans", sans-serif' font-size="32.8" textLength="44.91" lengthAdjust="spacingAndGlyphs" stroke="#000" stroke-width="0.3">1.0</text>
<line x1="248.75" y1="1144.90" x2="248.75" y2="1165.70" stroke="#000" stroke-width="1.9"/>
<text x="215.91" y="1215.60" font-family='"Liberation Sans", sans-serif' font-size="31.6" textLength="64.24" lengthAdjust="spacingAndGlyphs" stroke="#000" stroke-width="0.7">−0.5</text>
<line x1="407.00" y1="1144.90" x2="407.00" y2="1165.70" stroke="#000" stroke-width="1.9"/>
<text x="397.23" y="1215.60" font-family='"Liberation Sans", sans-serif' font-size="31.6" textLength="18.10" lengthAdjust="spacingAndGlyphs" stroke="#000" stroke-width="0.7">0</text>
<line x1="723.50" y1="1144.90" x2="723.50" y2="1165.70" stroke="#000" stroke-width="1.9"/>
<text x="713.21" y="1215.60" font-family='"Liberation Sans", sans-serif' font-size="31.6" textLength="18.10" lengthAdjust="spacingAndGlyphs" stroke="#000" stroke-width="0.7">1</text>
<text transform="translate(62.80,1151.70) rotate(-90)" x="-3.0" y="0" font-family='"Liberation Sans", sans-serif' font-size="38.6" textLength="397.19" lengthAdjust="spacingAndGlyphs" stroke="#000" stroke-width="0.3">Normalized % Mortality</text>
<text x="72.40" y="1262.60" font-family='"Liberation Sans", sans-serif' font-size="38.7" textLength="62.47" lengthAdjust="spacingAndGlyphs" stroke="#000" stroke-width="0.9">Log</text>
<text x="138.33" y="1272.50" font-family='"Liberation Sans", sans-serif' font-size="24.6" textLength="29.19" lengthAdjust="spacingAndGlyphs" stroke="#000" stroke-width="0.9">10</text>
<text x="177.31" y="1262.60" font-family='"Liberation Sans", sans-serif' font-size="38.7" textLength="749.04" lengthAdjust="spacingAndGlyphs" stroke="#000" stroke-width="0.9">Zeta-cypermethrin Concentration (mg/L)</text>
<rect x="841.20" y="855.20" width="149.80" height="150.30" fill="#fff" stroke="#000" stroke-width="1.8"/>
<line x1="864.30" y1="891.30" x2="905.70" y2="891.30" stroke="#d02090" stroke-width="1.9"/>
<circle cx="885.00" cy="891.30" r="6.1" stroke="#d02090" stroke-width="1.9" fill="none"/>
<text x="936.59" y="900.50" font-family='"Liberation Sans", sans-serif' font-size="34.8" textLength="34.51" lengthAdjust="spacingAndGlyphs" stroke="#000" stroke-width="1.0">S3</text>
<path d="M864.30 933.7h7.1M880.00 933.7h6.5M894.60 933.7h6.6" stroke="#0000ff" stroke-width="1.9" fill="none"/>
<path d="M885.00 924.10L893.60 938.60L876.40 938.60Z" stroke="#0000ff" stroke-width="1.9" fill="none"/>
<text x="936.61" y="942.90" font-family='"Liberation Sans", sans-serif' font-size="34.8" textLength="33.67" lengthAdjust="spacingAndGlyphs" stroke="#000" stroke-width="1.0">S4</text>
<path d="M864.30 976.3h1.8M871.80 976.3h1.8M901.70 976.3h1.8" stroke="#000" stroke-width="1.6" fill="none"/>
<path d="M875.00 976.3h20M885.00 966.20v20.2" stroke="#000" stroke-width="1.9" fill="none"/>
<text x="936.59" y="985.50" font-family='"Liberation Sans", sans-serif' font-size="34.8" textLength="34.51" lengthAdjust="spacingAndGlyphs" stroke="#000" stroke-width="1.0">S8</text>
<circle cx="1442.52" cy="1024.36" r="3.7" stroke="#d02090" stroke-width="4.2" fill="none"/>
<circle cx="1442.52" cy="1096.72" r="3.7" stroke="#d02090" stroke-width="4.2" fill="none"/>
<circle cx="1442.52" cy="1132.90" r="3.7" stroke="#d02090" stroke-width="4.2" fill="none"/>
<circle cx="1563.30" cy="988.18" r="3.7" stroke="#d02090" stroke-width="4.2" fill="none"/>
<circle cx="1563.30" cy="1060.54" r="3.7" stroke="#d02090" stroke-width="4.2" fill="none"/>
<circle cx="1563.30" cy="1096.72" r="3.7" stroke="#d02090" stroke-width="4.2" fill="none"/>
<circle cx="1689.27" cy="807.28" r="3.7" stroke="#d02090" stroke-width="4.2" fill="none"/>
<circle cx="1689.27" cy="843.46" r="3.7" stroke="#d02090" stroke-width="4.2" fill="none"/>
<circle cx="1689.27" cy="988.18" r="3.7" stroke="#d02090" stroke-width="4.2" fill="none"/>
<circle cx="1689.27" cy="1060.54" r="3.7" stroke="#d02090" stroke-width="4.2" fill="none"/>
<circle cx="1763.62" cy="771.10" r="3.7" stroke="#d02090" stroke-width="4.2" fill="none"/>
<circle cx="1763.62" cy="879.64" r="3.7" stroke="#d02090" stroke-width="4.2" fill="none"/>
<circle cx="1763.62" cy="915.82" r="3.7" stroke="#d02090" stroke-width="4.2" fill="none"/>
<circle cx="1794.25" cy="771.10" r="3.7" stroke="#d02090" stroke-width="4.2" fill="none"/>
<circle cx="1794.25" cy="807.28" r="3.7" stroke="#d02090" stroke-width="4.2" fill="none"/>
<circle cx="1794.25" cy="843.46" r="3.7" stroke="#d02090" stroke-width="4.2" fill="none"/>
<circle cx="1794.25" cy="915.82" r="3.7" stroke="#d02090" stroke-width="4.2" fill="none"/>
<circle cx="1818.70" cy="771.10" r="3.7" stroke="#d02090" stroke-width="4.2" fill="none"/>
<circle cx="1818.70" cy="807.28" r="3.7" stroke="#d02090" stroke-width="4.2" fill="none"/>
<circle cx="1818.70" cy="843.46" r="3.7" stroke="#d02090" stroke-width="4.2" fill="none"/>
<path d="M1324.70 1090.57L1329.68 1099.19L1319.72 1099.19Z" stroke="#0000ff" stroke-width="4.3" stroke-linejoin="round" fill="none"/>
<path d="M1324.70 1126.75L1329.68 1135.38L1319.72 1135.38Z" stroke="#0000ff" stroke-width="4.3" stroke-linejoin="round" fill="none"/>
<path d="M1442.52 982.03L1447.50 990.66L1437.54 990.66Z" stroke="#0000ff" stroke-width="4.3" stroke-linejoin="round" fill="none"/>
<path d="M1442.52 1018.21L1447.50 1026.84L1437.54 1026.84Z" stroke="#0000ff" stroke-width="4.3" stroke-linejoin="round" fill="none"/>
<path d="M1442.52 1054.39L1447.50 1063.02L1437.54 1063.02Z" stroke="#0000ff" stroke-width="4.3" stroke-linejoin="round" fill="none"/>
<path d="M1442.52 1090.57L1447.50 1099.19L1437.54 1099.19Z" stroke="#0000ff" stroke-width="4.3" stroke-linejoin="round" fill="none"/>
<path d="M1442.52 1126.75L1447.50 1135.38L1437.54 1135.38Z" stroke="#0000ff" stroke-width="4.3" stroke-linejoin="round" fill="none"/>
<path d="M1563.30 909.67L1568.28 918.30L1558.32 918.30Z" stroke="#0000ff" stroke-width="4.3" stroke-linejoin="round" fill="none"/>
<path d="M1563.30 1018.21L1568.28 1026.84L1558.32 1026.84Z" stroke="#0000ff" stroke-width="4.3" stroke-linejoin="round" fill="none"/>
<path d="M1563.30 1054.39L1568.28 1063.02L1558.32 1063.02Z" stroke="#0000ff" stroke-width="4.3" stroke-linejoin="round" fill="none"/>
<path d="M1563.30 1090.57L1568.28 1099.19L1558.32 1099.19Z" stroke="#0000ff" stroke-width="4.3" stroke-linejoin="round" fill="none"/>
<path d="M1563.30 1126.75L1568.28 1135.38L1558.32 1135.38Z" stroke="#0000ff" stroke-width="4.3" stroke-linejoin="round" fill="none"/>
<path d="M1689.27 909.67L1694.25 918.30L1684.29 918.30Z" stroke="#0000ff" stroke-width="4.3" stroke-linejoin="round" fill="none"/>
<path d="M1689.27 945.85L1694.25 954.48L1684.29 954.48Z" stroke="#0000ff" stroke-width="4.3" stroke-linejoin="round" fill="none"/>
<path d="M1689.27 1090.57L1694.25 1099.19L1684.29 1099.19Z" stroke="#0000ff" stroke-width="4.3" stroke-linejoin="round" fill="none"/>
<path d="M1763.62 764.95L1768.60 773.58L1758.64 773.58Z" stroke="#0000ff" stroke-width="4.3" stroke-linejoin="round" fill="none"/>
<path d="M1763.62 801.13L1768.60 809.76L1758.64 809.76Z" stroke="#0000ff" stroke-width="4.3" stroke-linejoin="round" fill="none"/>
<path d="M1763.62 837.31L1768.60 845.94L1758.64 845.94Z" stroke="#0000ff" stroke-width="4.3" stroke-linejoin="round" fill="none"/>
<path d="M1794.25 764.95L1799.23 773.58L1789.27 773.58Z" stroke="#0000ff" stroke-width="4.3" stroke-linejoin="round" fill="none"/>
<path d="M1794.25 801.13L1799.23 809.76L1789.27 809.76Z" stroke="#0000ff" stroke-width="4.3" stroke-linejoin="round" fill="none"/>
<path d="M1794.25 837.31L1799.23 845.94L1789.27 845.94Z" stroke="#0000ff" stroke-width="4.3" stroke-linejoin="round" fill="none"/>
<path d="M1794.25 873.49L1799.23 882.12L1789.27 882.12Z" stroke="#0000ff" stroke-width="4.3" stroke-linejoin="round" fill="none"/>
<path d="M1818.70 764.95L1823.68 773.58L1813.72 773.58Z" stroke="#0000ff" stroke-width="4.3" stroke-linejoin="round" fill="none"/>
<path d="M1818.70 801.13L1823.68 809.76L1813.72 809.76Z" stroke="#0000ff" stroke-width="4.3" stroke-linejoin="round" fill="none"/>
<path d="M1818.70 837.31L1823.68 845.94L1813.72 845.94Z" stroke="#0000ff" stroke-width="4.3" stroke-linejoin="round" fill="none"/>
<path d="M1190.22 1096.72h10.6M1195.52 1091.42v10.6" stroke="#000" stroke-width="4.2" stroke-linecap="round" fill="none"/>
<path d="M1190.22 1132.90h10.6M1195.52 1127.60v10.6" stroke="#000" stroke-width="4.2" stroke-linecap="round" fill="none"/>
<path d="M1272.72 1096.72h10.6M1278.02 1091.42v10.6" stroke="#000" stroke-width="4.2" stroke-linecap="round" fill="none"/>
<path d="M1272.72 1132.90h10.6M1278.02 1127.60v10.6" stroke="#000" stroke-width="4.2" stroke-linecap="round" fill="none"/>
<path d="M1319.40 915.82h10.6M1324.70 910.52v10.6" stroke="#000" stroke-width="4.2" stroke-linecap="round" fill="none"/>
<path d="M1319.40 988.18h10.6M1324.70 982.88v10.6" stroke="#000" stroke-width="4.2" stroke-linecap="round" fill="none"/>
<path d="M1319.40 1024.36h10.6M1324.70 1019.06v10.6" stroke="#000" stroke-width="4.2" stroke-linecap="round" fill="none"/>
<path d="M1319.40 1060.54h10.6M1324.70 1055.24v10.6" stroke="#000" stroke-width="4.2" stroke-linecap="round" fill="none"/>
<path d="M1319.40 1132.90h10.6M1324.70 1127.60v10.6" stroke="#000" stroke-width="4.2" stroke-linecap="round" fill="none"/>
<path d="M1437.22 807.28h10.6M1442.52 801.98v10.6" stroke="#000" stroke-width="4.2" stroke-linecap="round" fill="none"/>
<path d="M1437.22 879.64h10.6M1442.52 874.34v10.6" stroke="#000" stroke-width="4.2" stroke-linecap="round" fill="none"/>
<path d="M1437.22 915.82h10.6M1442.52 910.52v10.6" stroke="#000" stroke-width="4.2" stroke-linecap="round" fill="none"/>
<path d="M1437.22 952.00h10.6M1442.52 946.70v10.6" stroke="#000" stroke-width="4.2" stroke-linecap="round" fill="none"/>
<path d="M1437.22 988.18h10.6M1442.52 982.88v10.6" stroke="#000" stroke-width="4.2" stroke-linecap="round" fill="none"/>
<path d="M1437.22 1060.54h10.6M1442.52 1055.24v10.6" stroke="#000" stroke-width="4.2" stroke-linecap="round" fill="none"/>
<path d="M1558.00 771.10h10.6M1563.30 765.80v10.6" stroke="#000" stroke-width="4.2" stroke-linecap="round" fill="none"/>
<path d="M1558.00 807.28h10.6M1563.30 801.98v10.6" stroke="#000" stroke-width="4.2" stroke-linecap="round" fill="none"/>
<path d="M1558.00 843.46h10.6M1563.30 838.16v10.6" stroke="#000" stroke-width="4.2" stroke-linecap="round" fill="none"/>
<path d="M1558.00 879.64h10.6M1563.30 874.34v10.6" stroke="#000" stroke-width="4.2" stroke-linecap="round" fill="none"/>
<path d="M1558.00 915.82h10.6M1563.30 910.52v10.6" stroke="#000" stroke-width="4.2" stroke-linecap="round" fill="none"/>
<path d="M1558.00 952.00h10.6M1563.30 946.70v10.6" stroke="#000" stroke-width="4.2" stroke-linecap="round" fill="none"/>
<path d="M1683.97 771.10h10.6M1689.27 765.80v10.6" stroke="#000" stroke-width="4.2" stroke-linecap="round" fill="none"/>
<path d="M1683.97 843.46h10.6M1689.27 838.16v10.6" stroke="#000" stroke-width="4.2" stroke-linecap="round" fill="none"/>
<path d="M1683.97 915.82h10.6M1689.27 910.52v10.6" stroke="#000" stroke-width="4.2" stroke-linecap="round" fill="none"/>
<path d="M1195.5 1132.0L1201.8 1132.0L1208.1 1131.9L1214.4 1131.8L1220.7 1131.7L1227.0 1131.6L1233.3 1131.5L1239.6 1131.4L1245.9 1131.3L1252.2 1131.1L1258.5 1131.0L1264.8 1130.8L1271.1 1130.6L1277.4 1130.5L1283.6 1130.2L1289.9 1130.0L1296.2 1129.8L1302.5 1129.5L1308.8 1129.2L1315.1 1128.9L1321.4 1128.6L1327.7 1128.2L1334.0 1127.9L1340.3 1127.4L1346.6 1127.0L1352.9 1126.5L1359.2 1126.0L1365.5 1125.4L1371.8 1124.8L1378.1 1124.1L1384.4 1123.4L1390.7 1122.6L1397.0 1121.8L1403.2 1120.8L1409.5 1119.9L1415.8 1118.8L1422.1 1117.7L1428.4 1116.4L1434.7 1115.1L1441.0 1113.7L1447.3 1112.2L1453.6 1110.5L1459.9 1108.8L1466.2 1106.9L1472.5 1104.8L1478.8 1102.7L1485.1 1100.3L1491.4 1097.8L1497.7 1095.2L1504.0 1092.4L1510.3 1089.4L1516.6 1086.1L1522.8 1082.7L1529.1 1079.1L1535.4 1075.3L1541.7 1071.3L1548.0 1067.0L1554.3 1062.5L1560.6 1057.8L1566.9 1052.9L1573.2 1047.7L1579.5 1042.3L1585.8 1036.7L1592.1 1030.9L1598.4 1024.8L1604.7 1018.6L1611.0 1012.2L1617.3 1005.6L1623.6 998.8L1629.9 991.9L1636.2 984.8L1642.4 977.7L1648.7 970.5L1655.0 963.2L1661.3 955.9L1667.6 948.5L1673.9 941.2L1680.2 933.9L1686.5 926.7L1692.8 919.5L1699.1 912.5L1705.4 905.6L1711.7 898.8L1718.0 892.2L1724.3 885.7L1730.6 879.5L1736.9 873.4L1743.2 867.6L1749.5 862.0L1755.8 856.5L1762.0 851.4L1768.3 846.4L1774.6 841.7L1780.9 837.2L1787.2 832.9L1793.5 828.9L1799.8 825.1L1806.1 821.4L1812.4 818.0L1818.7 814.8" fill="none" stroke="#d02090" stroke-width="4.15" stroke-linecap="round" stroke-linejoin="round"/>
<path d="M1195.5 1131.2L1201.8 1131.0L1208.1 1130.9L1214.4 1130.7L1220.7 1130.6L1227.0 1130.4L1233.3 1130.2L1239.6 1130.0L1245.9 1129.7L1252.2 1129.5L1258.5 1129.2L1264.8 1128.9L1271.1 1128.6L1277.4 1128.3L1283.6 1127.9L1289.9 1127.6L1296.2 1127.1L1302.5 1126.7L1308.8 1126.2L1315.1 1125.7L1321.4 1125.2L1327.7 1124.6L1334.0 1123.9L1340.3 1123.2L1346.6 1122.5L1352.9 1121.7L1359.2 1120.8L1365.5 1119.9L1371.8 1118.9L1378.1 1117.9L1384.4 1116.8L1390.7 1115.5L1397.0 1114.3L1403.2 1112.9L1409.5 1111.4L1415.8 1109.8L1422.1 1108.1L1428.4 1106.3L1434.7 1104.4L1441.0 1102.3L1447.3 1100.1L1453.6 1097.8L1459.9 1095.3L1466.2 1092.7L1472.5 1089.9L1478.8 1086.9L1485.1 1083.8L1491.4 1080.5L1497.7 1077.0L1504.0 1073.3L1510.3 1069.4L1516.6 1065.4L1522.8 1061.1L1529.1 1056.7L1535.4 1052.0L1541.7 1047.1L1548.0 1042.1L1554.3 1036.8L1560.6 1031.4L1566.9 1025.7L1573.2 1019.9L1579.5 1014.0L1585.8 1007.8L1592.1 1001.6L1598.4 995.2L1604.7 988.6L1611.0 982.0L1617.3 975.3L1623.6 968.5L1629.9 961.7L1636.2 954.9L1642.4 948.0L1648.7 941.2L1655.0 934.3L1661.3 927.6L1667.6 920.9L1673.9 914.3L1680.2 907.8L1686.5 901.4L1692.8 895.1L1699.1 889.0L1705.4 883.1L1711.7 877.3L1718.0 871.7L1724.3 866.3L1730.6 861.1L1736.9 856.0L1743.2 851.2L1749.5 846.6L1755.8 842.2L1762.0 837.9L1768.3 833.9L1774.6 830.1L1780.9 826.4L1787.2 823.0L1793.5 819.7L1799.8 816.6L1806.1 813.6L1812.4 810.9L1818.7 808.3" fill="none" stroke="#0000ff" stroke-width="4.15" stroke-linecap="round" stroke-linejoin="round" stroke-dasharray="12.5 20.8"/>
<path d="M1195.5 1121.7L1201.8 1120.8L1208.1 1119.7L1214.4 1118.7L1220.7 1117.5L1227.0 1116.2L1233.3 1114.9L1239.6 1113.4L1245.9 1111.9L1252.2 1110.2L1258.5 1108.4L1264.8 1106.4L1271.1 1104.4L1277.4 1102.1L1283.6 1099.7L1289.9 1097.2L1296.2 1094.4L1302.5 1091.5L1308.8 1088.4L1315.1 1085.1L1321.4 1081.6L1327.7 1077.9L1334.0 1074.0L1340.3 1069.8L1346.6 1065.4L1352.9 1060.8L1359.2 1055.9L1365.5 1050.9L1371.8 1045.5L1378.1 1040.0L1384.4 1034.2L1390.7 1028.2L1397.0 1022.0L1403.2 1015.6L1409.5 1009.0L1415.8 1002.2L1422.1 995.3L1428.4 988.3L1434.7 981.1L1441.0 973.8L1447.3 966.5L1453.6 959.1L1459.9 951.7L1466.2 944.2L1472.5 936.8L1478.8 929.5L1485.1 922.2L1491.4 915.1L1497.7 908.0L1504.0 901.1L1510.3 894.4L1516.6 887.8L1522.8 881.4L1529.1 875.2L1535.4 869.2L1541.7 863.5L1548.0 858.0L1554.3 852.7L1560.6 847.6L1566.9 842.8L1573.2 838.2L1579.5 833.8L1585.8 829.7L1592.1 825.7L1598.4 822.0L1604.7 818.6L1611.0 815.3L1617.3 812.2L1623.6 809.3L1629.9 806.6L1636.2 804.0L1642.4 801.7L1648.7 799.4L1655.0 797.4L1661.3 795.4L1667.6 793.6L1673.9 792.0L1680.2 790.4L1686.5 789.0L1692.8 787.6L1699.1 786.4L1705.4 785.2L1711.7 784.2L1718.0 783.2L1724.3 782.2L1730.6 781.4L1736.9 780.6L1743.2 779.9L1749.5 779.2L1755.8 778.6L1762.0 778.0L1768.3 777.5L1774.6 777.0L1780.9 776.5L1787.2 776.1L1793.5 775.7L1799.8 775.3L1806.1 775.0L1812.4 774.7L1818.7 774.4" fill="none" stroke="#000" stroke-width="4.4" stroke-linecap="round" stroke-linejoin="round" stroke-dasharray="0.01 16.65"/>
<line x1="1169.60" y1="948.30" x2="1842.60" y2="948.30" stroke="#ffd966" stroke-width="3.3"/>
<rect x="1170.60" y="756.60" width="673.20" height="390.80" fill="none" stroke="#000" stroke-width="2"/>
<line x1="1150.10" y1="1132.90" x2="1170.60" y2="1132.90" stroke="#000" stroke-width="1.9"/>
<text x="1085.71" y="1145.30" font-family='"Liberation Sans", sans-serif' font-size="32.8" textLength="44.91" lengthAdjust="spacingAndGlyphs" stroke="#000" stroke-width="0.3">0.0</text>
<line x1="1150.10" y1="1060.54" x2="1170.60" y2="1060.54" stroke="#000" stroke-width="1.9"/>
<text x="1085.71" y="1072.94" font-family='"Liberation Sans", sans-serif' font-size="32.8" textLength="44.91" lengthAdjust="spacingAndGlyphs" stroke="#000" stroke-width="0.3">0.2</text>
<line x1="1150.10" y1="988.18" x2="1170.60" y2="988.18" stroke="#000" stroke-width="1.9"/>
<text x="1084.73" y="1000.58" font-family='"Liberation Sans", sans-serif' font-size="32.8" textLength="44.91" lengthAdjust="spacingAndGlyphs" stroke="#000" stroke-width="0.3">0.4</text>
<line x1="1150.10" y1="915.82" x2="1170.60" y2="915.82" stroke="#000" stroke-width="1.9"/>
<text x="1085.71" y="928.22" font-family='"Liberation Sans", sans-serif' font-size="32.8" textLength="44.91" lengthAdjust="spacingAndGlyphs" stroke="#000" stroke-width="0.3">0.6</text>
<line x1="1150.10" y1="843.46" x2="1170.60" y2="843.46" stroke="#000" stroke-width="1.9"/>
<text x="1085.71" y="855.86" font-family='"Liberation Sans", sans-serif' font-size="32.8" textLength="44.91" lengthAdjust="spacingAndGlyphs" stroke="#000" stroke-width="0.3">0.8</text>
<line x1="1150.10" y1="771.10" x2="1170.60" y2="771.10" stroke="#000" stroke-width="1.9"/>
<text x="1085.71" y="783.50" font-family='"Liberation Sans", sans-serif' font-size="32.8" textLength="44.91" lengthAdjust="spacingAndGlyphs" stroke="#000" stroke-width="0.3">1.0</text>
<line x1="1201.20" y1="1147.40" x2="1201.20" y2="1168.20" stroke="#000" stroke-width="1.9"/>
<text x="1177.35" y="1218.60" font-family='"Liberation Sans", sans-serif' font-size="31.6" textLength="45.24" lengthAdjust="spacingAndGlyphs" stroke="#000" stroke-width="0.7">1.5</text>
<line x1="1324.70" y1="1147.40" x2="1324.70" y2="1168.20" stroke="#000" stroke-width="1.9"/>
<text x="1315.45" y="1218.60" font-family='"Liberation Sans", sans-serif' font-size="31.6" textLength="18.10" lengthAdjust="spacingAndGlyphs" stroke="#000" stroke-width="0.7">2</text>
<line x1="1571.70" y1="1147.40" x2="1571.70" y2="1168.20" stroke="#000" stroke-width="1.9"/>
<text x="1561.93" y="1218.60" font-family='"Liberation Sans", sans-serif' font-size="31.6" textLength="18.10" lengthAdjust="spacingAndGlyphs" stroke="#000" stroke-width="0.7">3</text>
<line x1="1818.70" y1="1147.40" x2="1818.70" y2="1168.20" stroke="#000" stroke-width="1.9"/>
<text x="1809.44" y="1218.60" font-family='"Liberation Sans", sans-serif' font-size="31.6" textLength="18.10" lengthAdjust="spacingAndGlyphs" stroke="#000" stroke-width="0.7">4</text>
<text transform="translate(1066.40,1151.70) rotate(-90)" x="-3.0" y="0" font-family='"Liberation Sans", sans-serif' font-size="38.6" textLength="397.19" lengthAdjust="spacingAndGlyphs" stroke="#000" stroke-width="0.3">Normalized % Mortality</text>
<text x="1169.14" y="1262.20" font-family='"Liberation Sans", sans-serif' font-size="38.7" textLength="63.65" lengthAdjust="spacingAndGlyphs" stroke="#000" stroke-width="0.9">Log</text>
<text x="1234.55" y="1272.10" font-family='"Liberation Sans", sans-serif' font-size="24.6" textLength="28.76" lengthAdjust="spacingAndGlyphs" stroke="#000" stroke-width="0.9">10</text>
<text x="1277.34" y="1262.20" font-family='"Liberation Sans", sans-serif' font-size="38.7" textLength="569.16" lengthAdjust="spacingAndGlyphs" stroke="#000" stroke-width="0.9">Spinosad Concentration (mg/L)</text>
<rect x="1855.90" y="855.20" width="150.10" height="150.30" fill="#fff" stroke="#000" stroke-width="1.8"/>
<line x1="1883.70" y1="891.30" x2="1925.10" y2="891.30" stroke="#d02090" stroke-width="1.9"/>
<circle cx="1904.40" cy="891.30" r="6.1" stroke="#d02090" stroke-width="1.9" fill="none"/>
<text x="1951.56" y="900.50" font-family='"Liberation Sans", sans-serif' font-size="34.8" textLength="37.48" lengthAdjust="spacingAndGlyphs" stroke="#000" stroke-width="1.0">C3</text>
<path d="M1883.70 933.7h7.1M1899.40 933.7h6.5M1914.00 933.7h6.6" stroke="#0000ff" stroke-width="1.9" fill="none"/>
<path d="M1904.40 924.10L1913.00 938.60L1895.80 938.60Z" stroke="#0000ff" stroke-width="1.9" fill="none"/>
<text x="1951.58" y="942.90" font-family='"Liberation Sans", sans-serif' font-size="34.8" textLength="36.61" lengthAdjust="spacingAndGlyphs" stroke="#000" stroke-width="1.0">C4</text>
<path d="M1883.70 976.3h1.8M1891.20 976.3h1.8M1921.10 976.3h1.8" stroke="#000" stroke-width="1.6" fill="none"/>
<path d="M1894.40 976.3h20M1904.40 966.20v20.2" stroke="#000" stroke-width="1.9" fill="none"/>
<text x="1951.56" y="985.50" font-family='"Liberation Sans", sans-serif' font-size="34.8" textLength="37.48" lengthAdjust="spacingAndGlyphs" stroke="#000" stroke-width="1.0">C5</text>
<line x1="57.00" y1="1346.30" x2="995.60" y2="1346.30" stroke="#000" stroke-width="2.7"/>
<line x1="57.00" y1="1418.00" x2="995.60" y2="1418.00" stroke="#000" stroke-width="2.2"/>
<line x1="57.00" y1="1423.20" x2="995.60" y2="1423.20" stroke="#000" stroke-width="2.2"/>
<line x1="57.00" y1="1552.60" x2="995.60" y2="1552.60" stroke="#000" stroke-width="2.3"/>
<line x1="57.00" y1="1679.60" x2="995.60" y2="1679.60" stroke="#000" stroke-width="2.3"/>
<text x="144.10" y="1395.10" font-family='"Liberation Serif", serif' font-size="36" font-weight="bold" textLength="164.18" lengthAdjust="spacingAndGlyphs" stroke="#000" stroke-width="0.3">Insecticide</text>
<text x="414.80" y="1395.10" font-family='"Liberation Serif", serif' font-size="36" font-weight="bold" textLength="212.07" lengthAdjust="spacingAndGlyphs" stroke="#000" stroke-width="0.3">Isofemale line</text>
<text x="701.50" y="1395.10" font-family='"Liberation Serif", serif' font-size="36" font-weight="bold" textLength="51.56" lengthAdjust="spacingAndGlyphs" stroke="#000" stroke-width="0.3">LC</text>
<text x="752.50" y="1397.30" font-family='"Liberation Serif", serif' font-size="22.5" font-weight="bold" textLength="21.24" lengthAdjust="spacingAndGlyphs" stroke="#000" stroke-width="0.3">50</text>
<text x="781.53" y="1395.10" font-family='"Liberation Serif", serif' font-size="36" font-weight="bold" textLength="182.66" lengthAdjust="spacingAndGlyphs" stroke="#000" stroke-width="0.3">(mg/L) ± SE</text>
<text x="512.64" y="1454.90" font-family='"Liberation Serif", serif' font-size="34.8" textLength="37.49" lengthAdjust="spacingAndGlyphs" stroke="#000" stroke-width="0.4">S3</text>
<text x="769.92" y="1454.90" font-family='"Liberation Serif", serif' font-size="34.8" textLength="125.96" lengthAdjust="spacingAndGlyphs" stroke="#000" stroke-width="0.4">3.9 ± 0.2</text>
<text x="512.64" y="1499.00" font-family='"Liberation Serif", serif' font-size="34.8" textLength="37.49" lengthAdjust="spacingAndGlyphs" stroke="#000" stroke-width="0.4">S4</text>
<text x="769.92" y="1499.00" font-family='"Liberation Serif", serif' font-size="34.8" textLength="125.96" lengthAdjust="spacingAndGlyphs" stroke="#000" stroke-width="0.4">3.3 ± 0.2</text>
<text x="512.64" y="1542.80" font-family='"Liberation Serif", serif' font-size="34.8" textLength="37.49" lengthAdjust="spacingAndGlyphs" stroke="#000" stroke-width="0.4">S8</text>
<text x="768.90" y="1542.80" font-family='"Liberation Serif", serif' font-size="34.8" textLength="125.96" lengthAdjust="spacingAndGlyphs" stroke="#000" stroke-width="0.4">1.2 ± 0.1</text>
<text x="511.18" y="1587.00" font-family='"Liberation Serif", serif' font-size="34.8" textLength="41.42" lengthAdjust="spacingAndGlyphs" stroke="#000" stroke-width="0.4">C3</text>
<text x="725.05" y="1587.00" font-family='"Liberation Serif", serif' font-size="34.8" textLength="214.69" lengthAdjust="spacingAndGlyphs" stroke="#000" stroke-width="0.4">2378.4 ± 210.8</text>
<text x="511.18" y="1628.50" font-family='"Liberation Serif", serif' font-size="34.8" textLength="41.42" lengthAdjust="spacingAndGlyphs" stroke="#000" stroke-width="0.4">C4</text>
<text x="724.54" y="1628.50" font-family='"Liberation Serif", serif' font-size="34.8" textLength="214.69" lengthAdjust="spacingAndGlyphs" stroke="#000" stroke-width="0.4">1868.7 ± 177.2</text>
<text x="511.18" y="1672.60" font-family='"Liberation Serif", serif' font-size="34.8" textLength="41.42" lengthAdjust="spacingAndGlyphs" stroke="#000" stroke-width="0.4">C5</text>
<text x="742.79" y="1672.60" font-family='"Liberation Serif", serif' font-size="34.8" textLength="179.20" lengthAdjust="spacingAndGlyphs" stroke="#000" stroke-width="0.4">351.7 ± 35.0</text>
<text x="91.76" y="1499.00" font-family='"Liberation Serif", serif' font-size="34.8" textLength="268.75" lengthAdjust="spacingAndGlyphs" stroke="#000" stroke-width="0.4">Zeta-cypermethrin</text>
<text x="159.82" y="1630.30" font-family='"Liberation Serif", serif' font-size="34.8" textLength="132.90" lengthAdjust="spacingAndGlyphs" stroke="#000" stroke-width="0.4">Spinosad</text>
<text x="1.96" y="46.80" font-family='"DejaVu Sans", "Liberation Sans", sans-serif' font-size="63" font-weight="bold" textLength="41.33" lengthAdjust="spacingAndGlyphs">a</text>
<text x="997.62" y="46.60" font-family='"DejaVu Sans", "Liberation Sans", sans-serif' font-size="63" font-weight="bold" textLength="43.08" lengthAdjust="spacingAndGlyphs">b</text>
<text x="-1.74" y="744.20" font-family='"DejaVu Sans", "Liberation Sans", sans-serif' font-size="63" font-weight="bold" textLength="38.16" lengthAdjust="spacingAndGlyphs">c</text>
<text x="993.79" y="743.60" font-family='"DejaVu Sans", "Liberation Sans", sans-serif' font-size="63" font-weight="bold" textLength="43.08" lengthAdjust="spacingAndGlyphs">d</text>
<text x="-1.62" y="1358.20" font-family='"DejaVu Sans", "Liberation Sans", sans-serif' font-size="63" font-weight="bold" textLength="41.04" lengthAdjust="spacingAndGlyphs">e</text>
</svg>
</body></html>
